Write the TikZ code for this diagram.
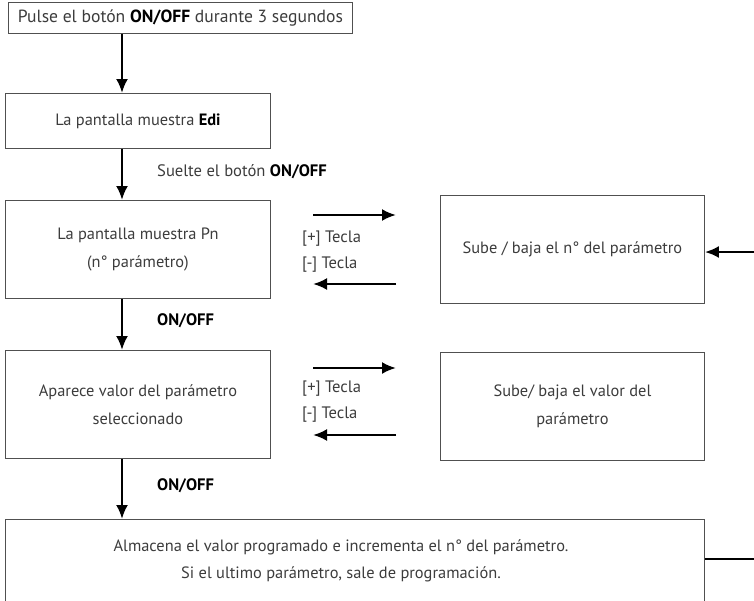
\documentclass[tikz,border=0pt]{standalone}
\usepackage{fontspec}
\setmainfont{PT Sans}
\usetikzlibrary{arrows.meta}
\definecolor{txt}{HTML}{3C3C3C}
\definecolor{frame}{HTML}{505050}
\begin{document}
\begin{tikzpicture}[x=1pt,y=-1pt,
  box/.style={draw=frame,line width=0.9pt,text=txt,align=center,inner sep=0pt,
    font=\fontsize{16.4}{28.5}\selectfont},
  lbl/.style={text=txt,font=\fontsize{16.6}{26}\selectfont,inner sep=0pt,align=left},
  flow/.style={line width=2.4pt,-{Latex[length=14pt,width=12pt]}},
  plain/.style={line width=2.4pt}]
\useasboundingbox (0,0) rectangle (754,600);
\clip (0,0) rectangle (754,600);

% main column
\node[box,font=\fontsize{17.6}{20}\selectfont,minimum width=344,minimum height=31,
  anchor=north west] (start) at (8,2)
  {Pulse el botón \textbf{\color{black}ON/OFF} durante 3 segundos};
\node[box,minimum width=265,minimum height=55,anchor=north west] (edi) at (5,93)
  {La pantalla muestra \textbf{\color{black}Edi}};
\node[box,minimum width=265,minimum height=98,anchor=north west] (pn) at (5,200)
  {La pantalla muestra Pn\\(n° parámetro)};
\node[box,minimum width=265,minimum height=108,anchor=north west] (val) at (5,350)
  {Aparece valor del parámetro\\seleccionado};
\node[box,minimum width=699,minimum height=90,anchor=north west] (store) at (5,519) {};
\node[text=txt,align=center,font=\fontsize{16.4}{27.5}\selectfont,inner sep=0pt]
  (storetxt) at (341,561)
  {Almacena el valor programado e incrementa el n° del parámetro.\\
   Si el ultimo parámetro, sale de programación.};

% side boxes
\node[box,minimum width=264,minimum height=108,anchor=north west] (num) at (440,195)
  {Sube / baja el n° del parámetro};
\node[box,minimum width=264,minimum height=108,anchor=north west] (sval) at (440,352)
  {Sube/ baja el valor del\\parámetro};

% vertical flow
\coordinate (x0) at (122,0);
\draw[flow] (start.south -| x0) -- (edi.north -| x0);
\draw[flow] (edi.south -| x0) -- (pn.north -| x0);
\draw[flow] (pn.south -| x0) -- (val.north -| x0);
\draw[flow] (val.south -| x0) -- (store.north -| x0);

\node[lbl,anchor=west] (l1) at (157,172) {Suelte el botón \textbf{\color{black}ON/OFF}};
\node[lbl,anchor=west] (l2) at (157,321) {\textbf{\color{black}ON/OFF}};
\node[lbl,anchor=west] (l3) at (157,486) {\textbf{\color{black}ON/OFF}};

% key arrows for the parameter number
\coordinate (a1s) at (313,215);
\coordinate (a1e) at (396,215);
\coordinate (a2s) at (396,284);
\coordinate (a2e) at (313,284);
\draw[flow] (a1s) -- (a1e);
\draw[flow] (a2s) -- (a2e);
\node[lbl,anchor=west] (k1) at (302,239) {[+] Tecla};
\node[lbl,anchor=west] (k2) at (302,265) {[-] Tecla};

% key arrows for the parameter value
\coordinate (b1s) at (313,368);
\coordinate (b1e) at (396,368);
\coordinate (b2s) at (396,435);
\coordinate (b2e) at (313,435);
\draw[flow] (b1s) -- (b1e);
\draw[flow] (b2s) -- (b2e);
\node[lbl,anchor=west] (k3) at (302,389) {[+] Tecla};
\node[lbl,anchor=west] (k4) at (302,415) {[-] Tecla};

% return path on the right
\coordinate (rin) at (756,252);
\coordinate (rout) at (756,559);
\draw[flow] (rin) -- (num.east |- rin);
\draw[plain] (store.east |- rout) -- (rout);
\end{tikzpicture}
\end{document}
